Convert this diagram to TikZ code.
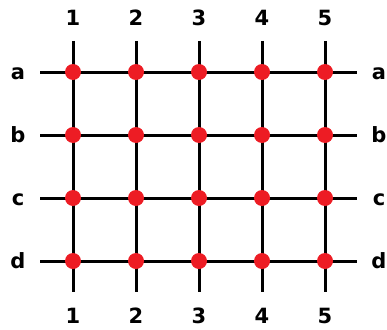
\documentclass[tikz,border=0pt]{standalone}
\usepackage{fontspec}
\setmainfont{DejaVu Sans}
\definecolor{dotred}{RGB}{237,28,36}
\usetikzlibrary{positioning}
\tikzset{
  gridline/.style={line width=3pt, black},
  gridlabel/.style={font=\fontsize{21}{21}\selectfont\bfseries, inner sep=0pt,
    text height=15pt, text depth=0pt},
  griddot/.style={circle, fill=dotred, minimum size=16pt, inner sep=0pt}
}
\begin{document}
\begin{tikzpicture}[x=1pt, y=-1pt]
    \useasboundingbox (0,0) rectangle (387,329);
    % Column lines and labels
    \foreach \c/\x in {1/73, 2/136, 3/199, 4/262, 5/325} {
      \coordinate (top\c) at (\x, 41);
      \coordinate (bot\c) at (\x, 292);
      \draw[gridline] (top\c) -- (bot\c);
      \node[gridlabel] (ctop\c) at (\x, 18) {\c};
      \node[gridlabel] (cbot\c) at (\x, 316) {\c};
    }
    % Row lines and labels
    \foreach \r/\y in {a/72, b/135, c/198, d/261} {
      \coordinate (left\r) at (40, \y);
      \coordinate (right\r) at (357, \y);
      \draw[gridline] (left\r) -- (right\r);
      \node[gridlabel] (rleft\r) at (18, \y) {\r};
      \node[gridlabel] (rright\r) at (379, \y) {\r};
    }
    % Crossing points
    \foreach \c/\x in {1/73, 2/136, 3/199, 4/262, 5/325} {
      \foreach \r/\y in {a/72, b/135, c/198, d/261} {
        \node[griddot] (p\r\c) at (\x, \y) {};
      }
    }
\end{tikzpicture}
\end{document}
